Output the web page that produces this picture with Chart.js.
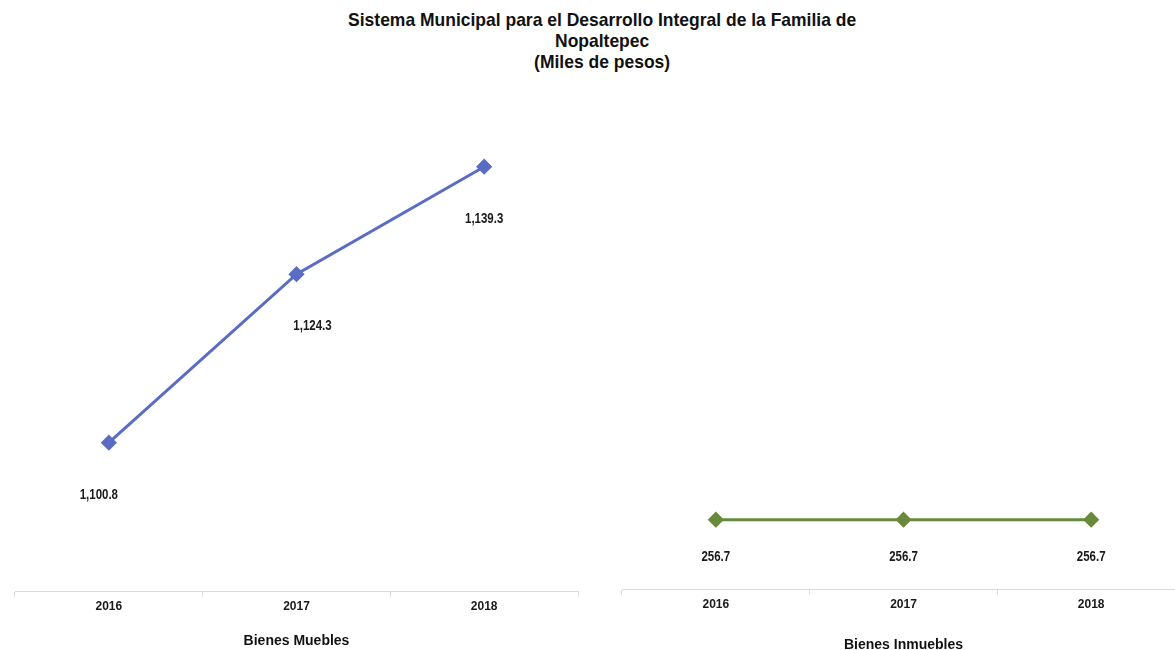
<!DOCTYPE html>
<html>
<head>
<meta charset="utf-8">
<script src="https://cdn.jsdelivr.net/npm/chart.js@4"></script>
<style>
  body { margin: 0; width: 1175px; height: 650px; overflow: hidden; background: #fff; position: relative; }
  .titulo { position: absolute; left: 0; top: 9px; width: 1204px; text-align: center; }
  .titulo span { display: inline-block; transform: scaleX(0.92); transform-origin: center;
    font-family: "Liberation Sans", Arial, sans-serif;
    font-weight: bold; font-size: 19px; line-height: 21px; color: #111; }
  .panel { position: absolute; top: 0; width: 593px; }
</style>
</head>
<body>
<div class="titulo"><span>Sistema Municipal para el Desarrollo Integral de la Familia de<br>Nopaltepec<br>(Miles de pesos)</span></div>
<div class="panel" style="left:0; height:650px"><canvas id="muebles"></canvas></div>
<div class="panel" style="left:607px; height:654px"><canvas id="inmuebles"></canvas></div>
<script>
const years = ["2016", "2017", "2018"];
const muebles = [1100.8, 1124.3, 1139.3];
const inmuebles = [256.7, 256.7, 256.7];

const sans = '"Liberation Sans", Arial, sans-serif';

// etiquetas de valor debajo de cada punto (letra estrecha a mano)
const etiquetas = {
  id: "etiquetas",
  afterDatasetsDraw(chart, args, opts) {
    const ctx = chart.ctx;
    const meta = chart.getDatasetMeta(0);
    meta.data.forEach((p, i) => {
      const v = chart.data.datasets[0].data[i];
      const txt = v.toLocaleString("en-US", {minimumFractionDigits: 1, maximumFractionDigits: 1});
      ctx.save();
      ctx.translate(p.x + (opts.dx[i] || 0), p.y + opts.dy);
      ctx.scale(0.82, 1);
      ctx.font = "bold 14px " + sans;
      ctx.fillStyle = "#1a1a1a";
      ctx.textAlign = "center";
      ctx.textBaseline = "middle";
      ctx.fillText(txt, 0, 0);
      ctx.restore();
    });
  }
};

function panel(id, data, color, min, max, nombre, dy, dx, tituloPad) {
  return new Chart(id, {
    type: "line",
    data: {
      labels: years,
      datasets: [{
        data: data,
        borderColor: color,
        backgroundColor: color,
        borderWidth: 3,
        tension: 0,
        pointStyle: "rectRot",
        pointRadius: 6,
        pointHoverRadius: 6
      }]
    },
    plugins: [etiquetas],
    options: {
      responsive: true,
      maintainAspectRatio: false,
      animation: false,
      layout: { padding: { left: 15, right: 15, top: 90, bottom: 0 } },
      plugins: {
        legend: { display: false },
        tooltip: { enabled: false },
        etiquetas: { dy: dy, dx: dx }
      },
      scales: {
        y: { display: false, min: min, max: max },
        x: {
          offset: true,
          border: { color: "#dcdcd4", width: 1 },
          grid: { offset: true, drawOnChartArea: false, color: "#dcdcd4", tickLength: 5 },
          ticks: { color: "#1a1a1a", font: { family: sans, size: 12, weight: "bold" }, padding: 3 },
          title: { display: true, text: nombre, color: "#111",
            font: { family: sans, size: 14, weight: "bold" },
            padding: { top: tituloPad, bottom: 0 } }
        }
      }
    }
  });
}

panel("muebles", muebles, "#5a6cc4", 1080, 1150, "Bienes Muebles", 52, [-10, 16, 0], 16);
panel("inmuebles", inmuebles, "#698a3c", 0, 1830, "Bienes Inmuebles", 37, [0, 0, 0], 22);
</script>
</body>
</html>
